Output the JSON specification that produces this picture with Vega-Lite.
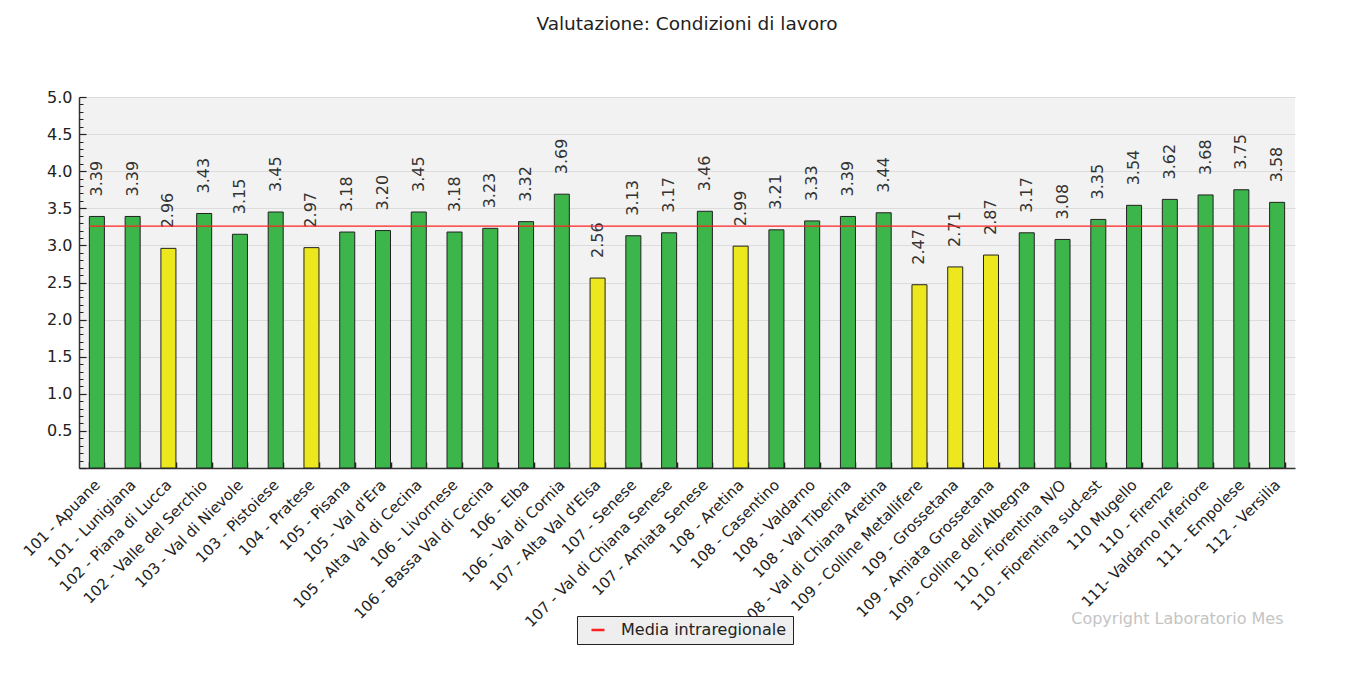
{
  "$schema": "https://vega.github.io/schema/vega-lite/v6.json",
  "autosize": "none",
  "width": 1216,
  "height": 371,
  "padding": {"left": 79, "top": 97, "right": 55, "bottom": 206},
  "background": "white",
  "title": {"text": "Valutazione: Condizioni di lavoro", "font": "DejaVu Sans", "fontSize": 18.5, "fontWeight": "normal", "color": "#222", "anchor": "middle", "frame": "group", "offset": 56},
  "config": {
    "view": {"fill": "#f2f2f2", "stroke": null},
    "font": "DejaVu Sans"
  },
  "resolve": {"axis": {"y": "independent"}},
  "data": {"values": [
    {"area": "101 - Apuane", "valore": 3.39, "media": 3.26},
    {"area": "101 - Lunigiana", "valore": 3.39, "media": 3.26},
    {"area": "102 - Piana di Lucca", "valore": 2.96, "media": 3.26},
    {"area": "102 - Valle del Serchio", "valore": 3.43, "media": 3.26},
    {"area": "103 - Val di Nievole", "valore": 3.15, "media": 3.26},
    {"area": "103 - Pistoiese", "valore": 3.45, "media": 3.26},
    {"area": "104 - Pratese", "valore": 2.97, "media": 3.26},
    {"area": "105 - Pisana", "valore": 3.18, "media": 3.26},
    {"area": "105 - Val d'Era", "valore": 3.20, "media": 3.26},
    {"area": "105 - Alta Val di Cecina", "valore": 3.45, "media": 3.26},
    {"area": "106 - Livornese", "valore": 3.18, "media": 3.26},
    {"area": "106 - Bassa Val di Cecina", "valore": 3.23, "media": 3.26},
    {"area": "106 - Elba", "valore": 3.32, "media": 3.26},
    {"area": "106 - Val di Cornia", "valore": 3.69, "media": 3.26},
    {"area": "107 - Alta Val d'Elsa", "valore": 2.56, "media": 3.26},
    {"area": "107 - Senese", "valore": 3.13, "media": 3.26},
    {"area": "107 - Val di Chiana Senese", "valore": 3.17, "media": 3.26},
    {"area": "107 - Amiata Senese", "valore": 3.46, "media": 3.26},
    {"area": "108 - Aretina", "valore": 2.99, "media": 3.26},
    {"area": "108 - Casentino", "valore": 3.21, "media": 3.26},
    {"area": "108 - Valdarno", "valore": 3.33, "media": 3.26},
    {"area": "108 - Val Tiberina", "valore": 3.39, "media": 3.26},
    {"area": "108 - Val di Chiana Aretina", "valore": 3.44, "media": 3.26},
    {"area": "109 - Colline Metallifere", "valore": 2.47, "media": 3.26},
    {"area": "109 - Grossetana", "valore": 2.71, "media": 3.26},
    {"area": "109 - Amiata Grossetana", "valore": 2.87, "media": 3.26},
    {"area": "109 - Colline dell'Albegna", "valore": 3.17, "media": 3.26},
    {"area": "110 - Fiorentina N/O", "valore": 3.08, "media": 3.26},
    {"area": "110 - Fiorentina sud-est", "valore": 3.35, "media": 3.26},
    {"area": "110 Mugello", "valore": 3.54, "media": 3.26},
    {"area": "110 - Firenze", "valore": 3.62, "media": 3.26},
    {"area": "111- Valdarno Inferiore", "valore": 3.68, "media": 3.26},
    {"area": "111 - Empolese", "valore": 3.75, "media": 3.26},
    {"area": "112 - Versilia", "valore": 3.58, "media": 3.26}
  ]},
  "encoding": {
    "x": {
      "field": "area", "type": "nominal", "sort": null,
      "scale": {"paddingInner": 0.58, "paddingOuter": 0.29},
      "axis": {
        "title": "Copyright Laboratorio Mes",
        "titleFont": "DejaVu Sans", "titleFontSize": 16, "titleFontWeight": "normal", "titleColor": "#c4c4c4",
        "titleAnchor": "end", "titleAlign": "right", "titleBaseline": "middle", "titleX": 1204, "titleY": 150,
        "labelAngle": -45, "labelAlign": "right", "labelBaseline": "middle", "labelFontSize": 15, "labelColor": "#222",
        "labelPadding": 20, "labelOverlap": false, "labelLimit": 0,
        "tickBand": "extent", "tickSize": -6, "tickColor": "#222", "tickWidth": 1.5,
        "domainColor": "#333", "domainWidth": 1.5, "grid": false
      }
    }
  },
  "layer": [
    {
      "mark": {"type": "bar", "stroke": "#222", "strokeWidth": 1},
      "encoding": {
        "y": {
          "field": "valore", "type": "quantitative",
          "scale": {"domain": [0, 5], "nice": false},
          "axis": {
            "title": null, "orient": "left",
            "values": [0, 0.5, 1, 1.5, 2, 2.5, 3, 3.5, 4, 4.5, 5],
            "labelExpr": "datum.value > 0.01 ? format(datum.value, '.1f') : ''",
            "labelFontSize": 16, "labelColor": "#222", "labelPadding": 14,
            "tickSize": -7, "tickColor": "#222", "tickWidth": 1.2,
            "grid": true, "gridColor": "#dcdcdc",
            "domainColor": "#333", "domainWidth": 1.5
          }
        },
        "fill": {"condition": {"test": "datum.valore < 3", "value": "#ece81d"}, "value": "#3cb54b"}
      }
    },
    {
      "mark": {"type": "text", "angle": 270, "align": "left", "baseline": "middle", "yOffset": -20, "fontSize": 16, "color": "#333"},
      "encoding": {
        "y": {
          "field": "valore", "type": "quantitative",
          "axis": {
            "title": null, "orient": "left",
            "values": [0.1,0.2,0.3,0.4,0.6,0.7,0.8,0.9,1.1,1.2,1.3,1.4,1.6,1.7,1.8,1.9,2.1,2.2,2.3,2.4,2.6,2.7,2.8,2.9,3.1,3.2,3.3,3.4,3.6,3.7,3.8,3.9,4.1,4.2,4.3,4.4,4.6,4.7,4.8,4.9],
            "labels": false, "grid": false, "domain": false,
            "tickSize": -4, "tickColor": "#222", "tickWidth": 1
          }
        },
        "text": {"field": "valore", "type": "quantitative", "format": ".2f"}
      }
    },
    {
      "mark": {"type": "line", "strokeWidth": 1.2, "xOffset": -8},
      "encoding": {
        "y": {"field": "media", "type": "quantitative", "axis": null},
        "stroke": {
          "datum": "Media intraregionale",
          "scale": {"range": ["#ff2020"]},
          "legend": {
            "title": null, "orient": "none", "legendX": 498, "legendY": 519,
            "fillColor": "#eeeeee", "strokeColor": "#222", "padding": 6,
            "symbolType": "stroke", "symbolSize": 169, "symbolStrokeWidth": 2.5,
            "labelFontSize": 16, "labelColor": "#222", "labelOffset": 15, "labelFont": "DejaVu Sans", "labelLimit": 0,
            "symbolOffset": 7
          }
        }
      }
    }
  ]
}
